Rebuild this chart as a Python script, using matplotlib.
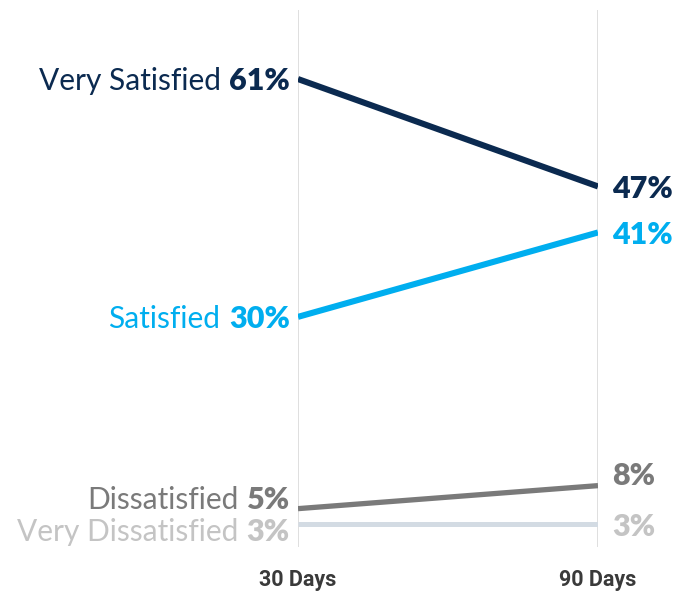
import matplotlib
matplotlib.use("Agg")
import matplotlib.pyplot as plt
from matplotlib.transforms import offset_copy

periods = ["30 Days", "90 Days"]
categories = ["Very Satisfied", "Satisfied", "Dissatisfied", "Very Dissatisfied"]
values_30 = [61, 30, 5, 3]
values_90 = [47, 41, 8, 3]
line_colors = ["#0b2a50", "#00aeef", "#7a7a7a", "#d3dbe3"]
text_colors = ["#0b2a50", "#00aeef", "#7a7a7a", "#c4c4c4"]
line_widths = [4.4, 4.4, 3.8, 3.6]
# small vertical nudges (points) so close labels don't collide
left_nudge = [-1.5, -1.5, 6.5, -6.0]
right_nudge = [-1.5, -1.5, 7.0, -2.0]

W, H = 688, 594
fig = plt.figure(figsize=(W / 100, H / 100), dpi=100)
ax = fig.add_axes([298 / W, 47 / H, 300 / W, 537 / H])
ax.set_xlim(0, 1)
ax.set_ylim(0, 70)
ax.axis("off")

xs = [0, 1]
for x in xs:
    ax.axvline(x, color="#d9d9d9", lw=1.2, zorder=0)

for v0, v1, lc, lw in zip(values_30, values_90, line_colors, line_widths):
    ax.plot(xs, [v0, v1], color=lc, lw=lw, solid_capstyle="butt", zorder=2)

fam = "Lato"
fs_name = 21.5
fs_pct = 22
fig.canvas.draw()
renderer = fig.canvas.get_renderer()

for name, v0, v1, tc, ln, rn in zip(categories, values_30, values_90,
                                    text_colors, left_nudge, right_nudge):
    tr = offset_copy(ax.transData, fig=fig, x=-6, y=ln, units="points")
    pct = ax.text(0, v0, f"{v0}%", transform=tr, ha="right", va="center",
                  fontsize=fs_pct, fontweight="heavy", family=fam, color=tc)
    wpx = pct.get_window_extent(renderer).width
    tr2 = offset_copy(ax.transData, fig=fig, x=-6 - wpx * 72 / 100 - 6,
                      y=ln, units="points")
    ax.text(0, v0, name, transform=tr2, ha="right", va="center",
            fontsize=fs_name, family=fam, color=tc)
    tr3 = offset_copy(ax.transData, fig=fig, x=10, y=rn, units="points")
    ax.text(1, v1, f"{v1}%", transform=tr3, ha="left", va="center",
            fontsize=fs_pct, fontweight="heavy", family=fam, color=tc)

for x, lab in zip(xs, periods):
    tr = offset_copy(ax.transData, fig=fig, x=0, y=-24, units="points")
    ax.text(x, 0, lab, transform=tr, ha="center", va="center",
            fontsize=15.5, fontweight="bold", family="Roboto",
            fontstretch="condensed", color="#3a3a3a")

fig.savefig("out.png", dpi=100)
